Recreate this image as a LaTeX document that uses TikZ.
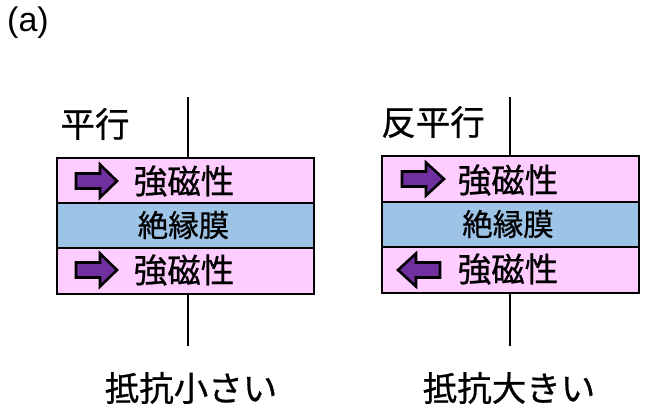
\documentclass[tikz,border=0pt]{standalone}
\usepackage{fontspec}
\setmainfont{Liberation Sans}
\newfontfamily\jp[FakeBold=0.6]{Noto Sans CJK JP}
\begin{document}
\begin{tikzpicture}[x=1pt,y=-1pt,
  layer/.style={draw=black,line width=1.6pt,minimum width=257pt,minimum height=45.5pt,inner sep=0pt,outer sep=0pt},
  fm/.style={layer,fill=pinkL},
  ins/.style={layer,fill=blueL},
  lbl/.style={font=\jp\fontsize{34.5}{36}\selectfont,inner sep=0pt},
  fmtext/.style={font=\jp\fontsize{33.5}{36}\selectfont,inner sep=0pt},
  instext/.style={font=\jp\fontsize{30.5}{32}\selectfont,inner sep=0pt},
  wire/.style={line width=2.4pt,black},
  magarrow/.style={fill=purpleA,draw=black,line width=2.6pt,line join=miter}
]
\definecolor{pinkL}{HTML}{FFCCFF}
\definecolor{blueL}{HTML}{9DC3E6}
\definecolor{purpleA}{HTML}{7030A0}
\useasboundingbox (0,0) rectangle (650,418);
\node[anchor=north west,inner sep=0pt,font=\fontsize{34}{36}\selectfont] (lab) at (7,7) {(a)};

% left stack
\coordinate (lt) at (188,97);
\coordinate (lb) at (188,346);
\draw[wire] (lt) -- (lb);
\node[fm]  (p1) at (185.5,180.5) {};
\node[ins] (i1) at (185.5,225.5) {};
\node[fm]  (p2) at (185.5,271) {};
\node[fmtext] (t1) at (184,181) {強磁性};
\node[instext] (u1) at (183.5,225) {絶縁膜};
\node[fmtext] (t2) at (184,270) {強磁性};
\node[lbl] (h1) at (95,124) {平行};
\node[lbl] (b1) at (191,388) {抵抗小さい};
\draw[magarrow] (76,173.5) -- (100,173.5) -- (100,164.5) -- (117,181) -- (100,197.5) -- (100,188.5) -- (76,188.5) -- cycle;
\draw[magarrow] (76,262.5) -- (100,262.5) -- (100,253.5) -- (117,270) -- (100,286.5) -- (100,277.5) -- (76,277.5) -- cycle;

% right stack
\coordinate (rt) at (510,97);
\coordinate (rb) at (510,346);
\draw[wire] (rt) -- (rb);
\node[fm]  (p3) at (510.5,179) {};
\node[ins] (i3) at (510.5,224.5) {};
\node[fm]  (p4) at (510.5,270) {};
\node[fmtext] (t3) at (508,180) {強磁性};
\node[instext] (u3) at (508,224) {絶縁膜};
\node[fmtext] (t4) at (508,269) {強磁性};
\node[lbl] (h3) at (433,122) {反平行};
\node[lbl] (b3) at (509,388) {抵抗大きい};
\draw[magarrow] (402,171.5) -- (426,171.5) -- (426,162.5) -- (444,179) -- (426,195.5) -- (426,186.5) -- (402,186.5) -- cycle;
\draw[magarrow] (440,262.5) -- (416,262.5) -- (416,253.5) -- (398,270) -- (416,286.5) -- (416,277.5) -- (440,277.5) -- cycle;
\end{tikzpicture}
\end{document}
